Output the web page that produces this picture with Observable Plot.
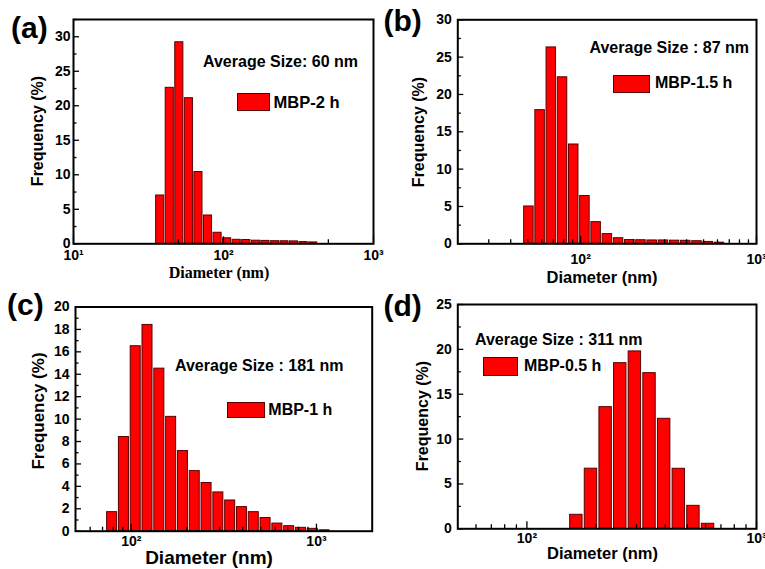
<!DOCTYPE html>
<html><head><meta charset="utf-8">
<script src="https://cdn.jsdelivr.net/npm/d3@7"></script>
<script src="https://cdn.jsdelivr.net/npm/@observablehq/plot@0.6"></script>
<style>
body{margin:0;background:#fff;}
#wrap{position:relative;width:765px;height:569px;overflow:hidden;font-family:"Liberation Sans",Arial,sans-serif;font-weight:bold;color:#000;background:#fff;}
.cell{position:absolute;}
.t{position:absolute;white-space:nowrap;line-height:1;}
.sw{position:absolute;background:#ff0000;border:1px solid #5a0000;box-sizing:border-box;}
</style></head><body><div id="wrap"></div>
<script>
// ---- data ----
const sizeA = [37.84, 43.82, 50.75, 58.77, 68.06, 78.82, 91.28, 105.7, 122.4, 141.8, 164.2, 190.1, 220.2, 255.0, 295.3, 342.0, 396.1];
const freqA = [7.0, 22.6, 29.2, 21.1, 10.4, 4.1, 1.6, 0.8, 0.58, 0.55, 0.45, 0.42, 0.38, 0.37, 0.35, 0.25, 0.2];

const sizeB = [50.75, 58.77, 68.06, 78.82, 91.28, 105.7, 122.4, 141.8, 164.2, 190.1, 220.2, 255.0, 295.3, 342.0, 396.1, 458.7, 531.2, 615.1];
const freqB = [5.0, 17.9, 26.3, 22.3, 13.3, 6.4, 2.9, 1.3, 0.75, 0.5, 0.48, 0.45, 0.45, 0.42, 0.4, 0.35, 0.25, 0.15];

const sizeC = [78.82, 91.28, 105.7, 122.4, 141.8, 164.2, 190.1, 220.2, 255.0, 295.3, 342.0, 396.1, 458.7, 531.2, 615.1, 712.4, 825.0, 955.4, 1106];
const freqC = [1.7, 8.4, 16.5, 18.4, 14.5, 10.2, 7.15, 5.36, 4.3, 3.46, 2.74, 2.15, 1.7, 1.18, 0.68, 0.45, 0.3, 0.21, 0.08];

const sizeD = [164.2, 190.1, 220.2, 255.0, 295.3, 342.0, 396.1, 458.7, 531.2, 615.1];
const freqD = [1.56, 6.7, 13.56, 18.46, 19.77, 17.35, 12.26, 6.69, 2.56, 0.56];

const yTicksA = [0, 5, 10, 15, 20, 25, 30];
const yTicksB = [0, 5, 10, 15, 20, 25, 30];
const yTicksC = [0, 2, 4, 6, 8, 10, 12, 14, 16, 18, 20];
const yTicksD = [0, 5, 10, 15, 20, 25];

const xTicksA = [10, 100, 1000];
const xTicksB = [100, 1000];
const xTicksC = [100, 1000];
const xTicksD = [100, 1000];

const panelLabels = ["(a)", "(b)", "(c)", "(d)"];
const avgLabels = ["Average Size: 60 nm", "Average Size : 87 nm", "Average Size : 181 nm", "Average Size : 311 nm"];
const legendLabels = ["MBP-2 h", "MBP-1.5 h", "MBP-1 h", "MBP-0.5 h"];
const yTitle = "Frequency (%)";
const xTitle = "Diameter (nm)";

// ---- drawing ----
const wrap = document.getElementById("wrap");
const sup = {1: "\u00b9", 2: "\u00b2", 3: "\u00b3"};
const fmt = d => "10" + sup[Math.round(Math.log10(d))];
const binHalf = Math.pow(10, 0.0628 * 0.43);

function minorLog(domain) {
  const out = [];
  for (let e = 1; e <= 3; e++) for (let m = 2; m <= 9; m++) {
    const v = m * Math.pow(10, e);
    if (v > domain[0] && v < domain[1]) out.push(v);
  }
  return out;
}

function panel(o) {
  const [bx, by, bw, bh] = o.box;
  const m = o.margin;
  const innerW = bw - m.left - m.right;
  const innerH = bh - m.top - m.bottom;
  const data = o.sizes.map((s, i) => ({size: s, freq: o.freqs[i]}));
  const yMinor = d3.range(o.yDomain[0], o.yDomain[1] + 1e-9, o.yMinorStep).filter(v => !o.yTicks.includes(v));
  const p = Plot.plot({
    width: bw, height: bh,
    marginLeft: m.left, marginRight: m.right, marginTop: m.top, marginBottom: m.bottom,
    style: 'font-family: "Liberation Sans", Arial, sans-serif; font-size: 14px; font-weight: bold; background: transparent; overflow: visible; color: #000;',
    x: {type: "log", domain: o.xDomain},
    y: {domain: o.yDomain},
    marks: [
      Plot.rectY(data, {x1: d => d.size / binHalf, x2: d => d.size * binHalf, y: "freq", fill: "#ff0000", stroke: "#5a0000", strokeWidth: 1}),
      Plot.tickY(o.yTicks, {y: d => d, insetRight: innerW - 6, stroke: "#000", strokeWidth: 1.3}),
      Plot.tickY(yMinor, {y: d => d, insetRight: innerW - 3.5, stroke: "#000", strokeWidth: 1.3}),
      Plot.tickX(o.xTicks, {x: d => d, insetTop: innerH - 7, stroke: "#000", strokeWidth: 1.3}),
      Plot.tickX(o.xMinor, {x: d => d, insetTop: innerH - 4, stroke: "#000", strokeWidth: 1.3}),
      Plot.axisY({ticks: o.yTicks, tickSize: 0, tickPadding: o.yPad, label: null, fontSize: 14, fontWeight: "bold"}),
      Plot.axisX({ticks: o.xTicks, tickSize: 0, tickPadding: o.xPad, tickFormat: fmt, label: null, fontSize: 14, fontWeight: "bold"}),
      Plot.frame({stroke: "#000", strokeWidth: 2})
    ]
  });
  const cell = document.createElement("div");
  cell.className = "cell";
  cell.style.left = bx + "px"; cell.style.top = by + "px";
  cell.appendChild(p);
  wrap.appendChild(cell);
}

function text(str, x, cy, size, extra = {}) {
  const d = document.createElement("div");
  d.className = "t";
  d.textContent = str;
  d.style.fontSize = size + "px";
  d.style.left = x + "px";
  d.style.top = (cy - size / 2) + "px";
  if (extra.center) d.style.transform = "translateX(-50%)";
  if (extra.rotate) { d.style.top = cy + "px"; d.style.transform = "translate(-50%,-50%) rotate(-90deg)"; }
  if (extra.serif) d.style.fontFamily = '"Liberation Serif", "Times New Roman", serif';
  wrap.appendChild(d);
}
function swatch(x, y, w, h) {
  const d = document.createElement("div");
  d.className = "sw";
  Object.assign(d.style, {left: x + "px", top: y + "px", width: w + "px", height: h + "px"});
  wrap.appendChild(d);
}

panel({box: [0, 0, 382, 285], margin: {left: 73, right: 9, top: 19, bottom: 41.7},
  xDomain: [10, 1000], yDomain: [0, 32.5], sizes: sizeA, freqs: freqA, yTicks: yTicksA, yMinorStep: 2.5,
  xTicks: xTicksA, xMinor: [50, 500], xPad: 6, yPad: 3});
panel({box: [382, 0, 383, 285], margin: {left: 75.3, right: 9, top: 19.3, bottom: 41.7},
  xDomain: [20, 1000], yDomain: [0, 30], sizes: sizeB, freqs: freqB, yTicks: yTicksB, yMinorStep: 2.5,
  xTicks: xTicksB, xMinor: minorLog([20, 1000]), xPad: 10, yPad: 6});
panel({box: [0, 285, 382, 284], margin: {left: 75, right: 10.3, top: 21.5, bottom: 38.3},
  xDomain: [50, 2000], yDomain: [0, 20], sizes: sizeC, freqs: freqC, yTicks: yTicksC, yMinorStep: 1,
  xTicks: xTicksC, xMinor: minorLog([50, 2000]), xPad: 5, yPad: 6});
panel({box: [382, 285, 383, 284], margin: {left: 75.3, right: 9, top: 19, bottom: 40.7},
  xDomain: [50, 1000], yDomain: [0, 25], sizes: sizeD, freqs: freqD, yTicks: yTicksD, yMinorStep: 2.5,
  xTicks: xTicksD, xMinor: minorLog([50, 1000]), xPad: 4, yPad: 6});

// annotations
text(panelLabels[0], 11, 28, 30);
text(panelLabels[1], 383.5, 21, 30);
text(panelLabels[2], 7, 305, 30);
text(panelLabels[3], 383.5, 306, 30);

text(avgLabels[0], 203, 62, 16);
text(avgLabels[1], 589.5, 48.3, 16);
text(avgLabels[2], 175, 366, 16);
text(avgLabels[3], 475, 340, 16);

swatch(237, 93, 33, 17.5);
swatch(613, 75, 37, 18);
swatch(227.3, 401.7, 37.7, 16.6);
swatch(482.7, 357.3, 35.6, 18.4);
text(legendLabels[0], 273.5, 102.5, 16.5);
text(legendLabels[1], 655, 83.3, 16);
text(legendLabels[2], 268.3, 410.3, 16);
text(legendLabels[3], 524, 365.5, 16);

text(yTitle, 37.5, 131, 16, {rotate: true});
text(yTitle, 419, 131.7, 16, {rotate: true});
text(yTitle, 37.5, 411, 17, {rotate: true});
text(yTitle, 422.5, 416, 16, {rotate: true});

text(xTitle, 219, 273, 16, {center: true, serif: true});
text(xTitle, 602, 277, 16.5, {center: true});
text(xTitle, 209, 557.5, 19, {center: true});
text(xTitle, 602.5, 553.3, 16.5, {center: true});
</script>
</body></html>
